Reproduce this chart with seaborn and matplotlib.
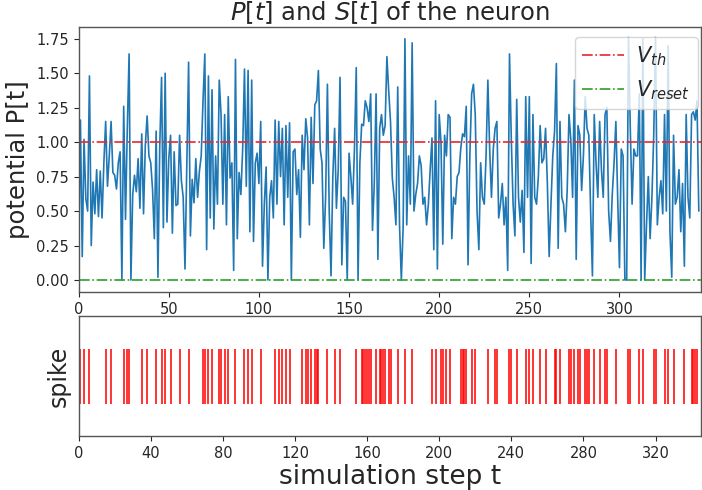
import numpy as np
import pandas as pd
import matplotlib
matplotlib.use("Agg")
import matplotlib.pyplot as plt
import seaborn as sns

# ---- data ----
potential = [
    0.18, 1.16, 0.17, 1.02, 0.59, 0.50, 1.48, 0.25, 0.71, 0.48,
    0.80, 0.46, 0.79, 0.45, 0.85, 1.15, 0.68, 0.90, 1.15, 0.78,
    0.76, 0.66, 0.85, 0.93, 0.00, 1.26, 0.44, 1.10, 1.64, 0.00,
    0.62, 0.76, 0.64, 0.88, 0.52, 1.06, 0.48, 0.98, 1.19, 0.90,
    0.85, 0.66, 0.30, 1.08, 0.02, 0.97, 1.47, 0.38, 1.50, 0.42,
    0.88, 1.05, 0.34, 0.93, 0.54, 0.55, 1.05, 0.72, 0.60, 0.08,
    0.85, 1.58, 0.32, 0.73, 0.56, 0.88, 0.60, 0.79, 0.90, 1.30,
    1.64, 0.22, 1.48, 0.45, 1.38, 0.37, 0.90, 0.55, 1.45, 1.20,
    0.55, 1.20, 0.40, 1.33, 0.74, 0.85, 0.07, 1.60, 0.30, 0.78,
    0.62, 0.95, 1.53, 0.68, 1.52, 0.35, 1.45, 0.28, 0.85, 0.92,
    0.70, 1.15, 0.10, 0.55, 0.82, 0.00, 0.60, 0.72, 0.45, 1.16,
    0.55, 1.15, 0.75, 1.10, 0.40, 1.12, 0.60, 1.14, 0.00, 0.93,
    0.95, 0.62, 0.80, 0.31, 1.05, 0.80, 1.17, 1.03, 0.40, 1.18,
    0.70, 1.27, 1.30, 1.52, 0.95, 0.85, 0.23, 0.60, 1.42, 0.50,
    0.03, 0.75, 1.10, 0.52, 0.80, 1.47, 0.11, 0.60, 0.57, 0.00,
    0.92, 0.75, 0.55, 0.95, 1.54, 0.00, 0.85, 1.13, 1.12, 1.30,
    1.25, 1.15, 1.35, 0.36, 0.70, 1.35, 0.15, 1.10, 1.20, 1.05,
    1.12, 1.62, 1.37, 1.15, 0.74, 0.60, 0.40, 1.40, 0.40, 0.00,
    0.38, 1.75, 0.40, 0.90, 0.55, 1.72, 0.50, 0.62, 0.70, 0.90,
    0.83, 0.55, 0.60, 0.40, 0.55, 0.80, 1.03, 0.22, 1.30, 0.08,
    1.20, 1.00, 0.26, 1.05, 0.90, 1.20, 1.18, 0.30, 0.60, 0.55,
    0.75, 0.78, 0.96, 1.06, 1.04, 1.26, 0.11, 0.90, 1.35, 1.42,
    1.20, 0.50, 0.22, 0.85, 0.60, 0.55, 0.90, 1.45, 0.95, 0.60,
    0.95, 1.10, 1.15, 0.45, 0.55, 0.70, 0.40, 0.60, 0.07, 1.64,
    1.02, 0.55, 0.32, 1.31, 0.60, 0.42, 0.65, 0.20, 1.33, 0.60,
    1.33, 0.12, 1.20, 0.60, 0.55, 0.75, 1.12, 0.85, 0.88, 1.10,
    0.70, 0.17, 0.55, 0.90, 1.08, 1.57, 0.23, 1.15, 0.60, 0.55,
    0.35, 0.65, 1.20, 1.02, 0.60, 1.45, 0.15, 1.12, 1.05, 0.65,
    0.90, 1.33, 1.10, 1.05, 0.50, 0.03, 1.20, 0.85, 0.60, 1.15,
    0.80, 0.60, 1.20, 1.25, 0.50, 0.28, 0.62, 0.85, 1.15, 0.60,
    0.09, 0.95, 0.90, 0.00, 0.00, 1.76, 1.10, 0.55, 0.95, 0.90,
    0.90, 1.35, 0.00, 1.75, 0.00, 0.40, 0.75, 0.30, 0.60, 1.05,
    1.76, 0.40, 0.60, 0.72, 0.48, 1.20, 0.50, 1.70, 0.35, 0.02,
    1.05, 0.55, 0.60, 0.80, 0.35, 0.70, 0.10, 1.20, 0.60, 0.45,
    1.20, 1.22, 1.16, 1.30, 0.50,
]
steps = list(range(len(potential)))

spike_times = [
    1, 3, 6, 15, 18, 25, 27, 28, 35, 38, 43, 46, 48, 51, 56, 61, 69, 70, 72,
    74, 78, 79, 81, 83, 87, 92, 94, 96, 101, 109, 111,
    113, 115, 117, 124, 126, 127, 129, 131, 132, 133, 138, 142, 145, 154,
    157, 158, 159, 160, 161, 162, 165, 167, 168, 169, 170, 172, 173, 177,
    181, 185, 196, 198, 201, 202, 204, 206, 212, 213, 214, 215, 218, 220, 227,
    231, 232, 239, 240, 243, 248, 250, 252, 256, 259, 264, 265, 267, 272,
    273, 275, 277, 278, 281, 282, 283, 286, 289, 292, 293, 298, 305, 306,
    311, 313, 319, 320, 325, 327, 330, 336, 340, 341, 342, 343,
]

v_th = 1.0
v_reset = 0.0
top_ticks = [0, 50, 100, 150, 200, 250, 300]
bottom_ticks = [0, 40, 80, 120, 160, 200, 240, 280, 320]

# ---- style ----
sns.set_theme(style="ticks")
plt.rcParams['font.family'] = ['DejaVu Sans']
plt.rcParams['mathtext.fontset'] = 'dejavusans'

fig = plt.figure(figsize=(7.02, 4.90), dpi=100)
ax1 = fig.add_axes([0.112, 0.404, 0.886, 0.5415])
ax2 = fig.add_axes([0.112, 0.110, 0.886, 0.245])

df = pd.DataFrame({"t": steps, "P": potential})
sns.lineplot(data=df, x="t", y="P", ax=ax1, color="#1f77b4", linewidth=1.2)
ax1.axhline(v_th, color="#e8282b", linestyle="-.", linewidth=1.2, label="$V_{th}$")
ax1.axhline(v_reset, color="#2ca02c", linestyle="-.", linewidth=1.2, label="$V_{reset}$")
ax1.set_xlim(0, 345)
ax1.set_ylim(-0.0875, 1.8375)
ax1.set_xticks(top_ticks)
ax1.set_yticks([0, 0.25, 0.5, 0.75, 1.0, 1.25, 1.5, 1.75])
ax1.set_yticklabels(["0.00", "0.25", "0.50", "0.75", "1.00", "1.25", "1.50", "1.75"])
ax1.set_xlabel("")
ax1.set_ylabel("potential P[t]", fontsize=17.5, labelpad=4)
ax1.set_title("$P[t]$ and $S[t]$ of the neuron", fontsize=17.5, pad=5)
ax1.legend(loc="upper right", bbox_to_anchor=(1.012, 1.0), fontsize=15,
           handlelength=2.0, handletextpad=0.6, borderpad=0.35,
           framealpha=0.8)

ax2.eventplot(spike_times, lineoffsets=1, linelengths=1, colors="red",
              linewidths=1.4, alpha=0.8)
ax2.set_xlim(0, 345)
ax2.set_ylim(-0.09, 2.09)
ax2.set_xticks(bottom_ticks)
ax2.set_yticks([])
ax2.set_ylabel("spike", fontsize=17, labelpad=6)
ax2.set_xlabel("simulation step t", fontsize=19, labelpad=2)

for ax in (ax1, ax2):
    ax.tick_params(labelsize=10.5, length=3.5, width=0.8, pad=3.5)
    for s in ax.spines.values():
        s.set_color("#555555")
        s.set_linewidth(1.0)

fig.savefig("out.png", dpi=100)
